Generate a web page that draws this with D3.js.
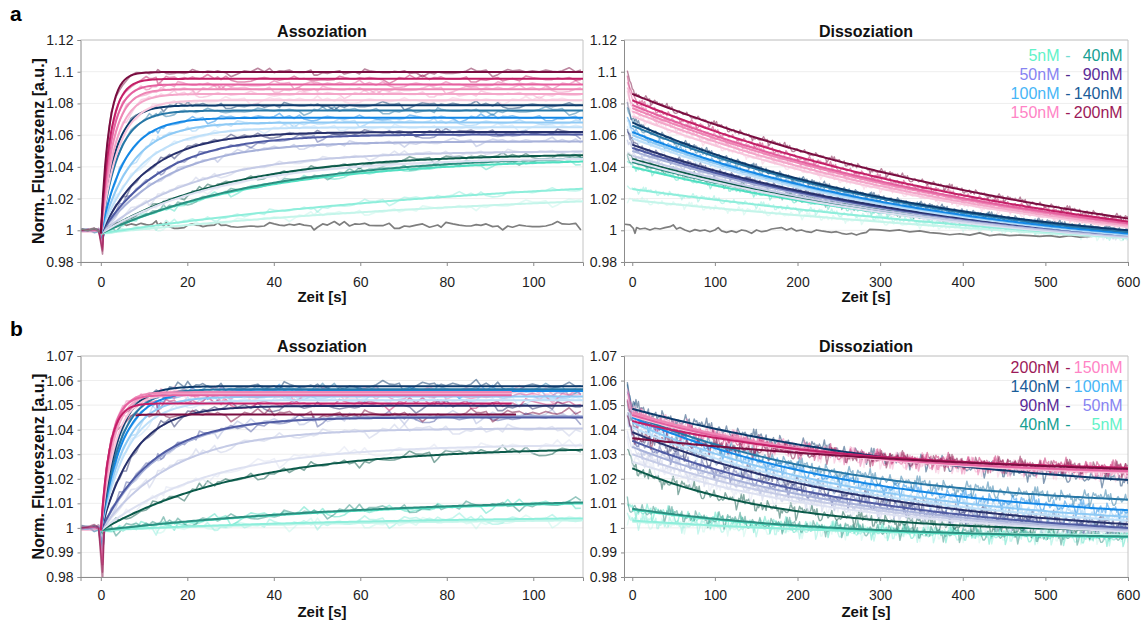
<!DOCTYPE html>
<html>
<head>
<meta charset="utf-8">
<script src="https://cdn.jsdelivr.net/npm/d3@7"></script>
<style>
  body { margin: 0; background: #fff; }
  svg text { font-family: "Liberation Sans", Arial, Helvetica, sans-serif; }
</style>
</head>
<body>
<svg id="chart" width="1146" height="622"></svg>
<script>
// ---- concentrations and colours (one entry per titration step) ----
const concentrations = [5, 10, 20, 30, 40, 50, 60, 70, 80, 90, 100, 110, 120, 130, 140, 150, 160, 170, 180, 190, 200];
const seriesColors = [
  "#c4f5ea", "#8eeedb", "#4fdfc1", "#2b8f80", "#0b5a4a",
  "#dde1f1", "#c5cbe6", "#a7b1d9", "#4f5ba3", "#27306b",
  "#bfe0f9", "#8fcaf5", "#1488e6", "#2777a6", "#0c3a6b",
  "#f8c6dc", "#f4a6c9", "#ee86b5", "#e5619f", "#c41f67", "#7a0d40"
];

// ---- panel a: association fits (plateau, observed rate in 1/s), injection dip ----
const aAssocPlateau = [1.030, 1.040, 1.046, 1.0485, 1.0485, 1.046, 1.050, 1.056, 1.0605, 1.062, 1.065, 1.068, 1.071, 1.0755, 1.0788, 1.082, 1.086, 1.089, 1.092, 1.0955, 1.0998];
const aAssocRate = [0.009, 0.010, 0.026, 0.025, 0.034, 0.035, 0.045, 0.065, 0.07, 0.09, 0.11, 0.14, 0.18, 0.25, 0.3, 0.25, 0.3, 0.35, 0.4, 0.45, 0.55];
const aAssocDip = [0.9985, 0.9985, 0.998, 0.997, 0.996, 0.997, 0.996, 0.995, 0.994, 0.994, 0.994, 0.993, 0.992, 0.992, 0.991, 0.990, 0.990, 0.989, 0.988, 0.987, 0.985];
// ---- panel a: dissociation fits (value at 0 s, value at 600 s, rate in 1/s) ----
const aDissStart = [1.019, 1.026, 1.040, 1.043, 1.045, 1.044, 1.047, 1.050, 1.052, 1.054, 1.058, 1.060, 1.062, 1.066, 1.068, 1.072, 1.075, 1.077, 1.079, 1.082, 1.086];
const aDissEnd = [0.995, 0.9955, 0.9965, 0.998, 0.9985, 0.9955, 0.996, 0.9965, 0.997, 0.9975, 0.997, 0.9975, 0.998, 0.999, 1.000, 1.002, 1.003, 1.004, 1.0045, 1.0055, 1.0075];
const aDissRate = [0.0009, 0.0012, 0.0022, 0.0025, 0.0026, 0.0024, 0.0024, 0.0024, 0.0025, 0.0026, 0.0025, 0.0025, 0.0026, 0.0026, 0.0027, 0.0021, 0.0021, 0.002, 0.002, 0.0019, 0.0017];

// ---- panel b: association fits ----
const bAssocPlateau = [1.004, 1.005, 1.0125, 1.013, 1.033, 1.034, 1.0405, 1.0455, 1.045, 1.0497, 1.052, 1.0535, 1.0557, 1.0565, 1.0577, 1.0545, 1.055, 1.0553, 1.054, 1.0507, 1.0462];
const bAssocRate = [0.015, 0.015, 0.015, 0.015, 0.03, 0.04, 0.06, 0.075, 0.08, 0.13, 0.16, 0.18, 0.2, 0.22, 0.25, 0.3, 0.35, 0.4, 0.45, 0.5, 0.6];
const bAssocDip = [0.999, 0.999, 0.998, 0.998, 0.997, 0.996, 0.995, 0.995, 0.993, 0.992, 0.990, 0.990, 0.989, 0.988, 0.988, 0.987, 0.986, 0.985, 0.985, 0.982, 0.978];
const bAssocFitFrom = [0, 0, 0, 0, 0, 0, 0, 0, 0, 0, 0, 0, 0, 0, 0, 0, 0, 0, 0, 0, 8];
const bAssocFitTo = [111.5, 111.5, 111.5, 111.5, 111.5, 111.5, 111.5, 111.5, 111.5, 111.5, 111.5, 111.5, 111.5, 111.5, 111.5, 95, 95, 95, 95, 95, 96];
// ---- panel b: dissociation fits ----
const bDissStart = [1.0025, 1.003, 1.0075, 1.0078, 1.0243, 1.027, 1.030, 1.033, 1.0355, 1.039, 1.041, 1.043, 1.045, 1.046, 1.0485, 1.0455, 1.0465, 1.047, 1.046, 1.0435, 1.0365];
const bDissEnd = [0.997, 0.9965, 0.9962, 0.9965, 0.999, 0.9985, 0.999, 0.9995, 1.000, 1.0015, 1.003, 1.0045, 1.0072, 1.0115, 1.0195, 1.0225, 1.0228, 1.023, 1.0232, 1.0245, 1.024];
const bDissRate = [0.003, 0.003, 0.004, 0.004, 0.0055, 0.0035, 0.0035, 0.0035, 0.0033, 0.0032, 0.0034, 0.0034, 0.0034, 0.0037, 0.0024, 0.004, 0.004, 0.004, 0.0042, 0.0039, 0.002];

// ---- control measurement (no protein), association phase ----
const assocTime = [-4.5, -3, -1.5, -0.5, 0.4, 1.2,
  2.4, 3.5, 4.3, 5.1, 5.9, 7.0, 8.2, 9.3, 10.5, 11.2, 12.0, 12.8, 13.2, 13.9, 14.5, 15.1, 15.9, 17.0, 17.8, 19.3,
  20.1, 21.2, 22.0, 22.8, 23.6, 24.7, 26.3, 27.0, 27.8, 28.9, 30.1, 31.6, 33.2, 34.7, 36.3, 37.8, 39.0,
  40.1, 41.3, 42.4, 43.6, 44.7, 45.9, 47.0, 48.6, 49.3, 50.1, 51.3, 52.4, 54.0, 55.2, 56.3, 57.5, 58.7, 59.8,
  61.0, 62.1, 63.7, 65.2, 66.7, 67.9, 69.0, 70.2, 71.4, 72.9, 74.4, 76.0, 77.1, 77.9, 78.7, 79.8,
  81.4, 82.9, 84.5, 85.6, 86.8, 87.9, 89.1, 90.6, 91.8, 92.9, 94.1, 95.2, 96.8, 98.3, 99.8,
  101.4, 102.9, 104.4, 105.6, 106.7, 108.3, 109.8, 111.0];
const ctrlAssoc = [1.0008, 0.9998, 1.0012, 0.9995, 0.9975, 1.0015,
  1.0033, 1.0048, 1.0040, 1.0044, 1.0031, 1.0040, 1.0033, 1.0044, 1.0036, 1.0033, 1.0040, 1.0059, 1.0033, 1.0044, 1.0027, 1.0048, 1.0023, 1.0012, 1.0012, 1.0017,
  1.0033, 1.0040, 1.0033, 1.0031, 1.0023, 1.0029, 1.0033, 1.0048, 1.0031, 1.0033, 1.0023, 1.0019, 1.0023, 1.0027, 1.0023, 1.0027, 1.0048,
  1.0040, 1.0033, 1.0029, 1.0038, 1.0033, 1.0040, 1.0033, 1.0027, 1.0002, 1.0019, 1.0040, 1.0033, 1.0055, 1.0033, 1.0055, 1.0027, 1.0040, 1.0038,
  1.0044, 1.0031, 1.0029, 1.0029, 1.0044, 1.0012, 1.0012, 1.0027, 1.0023, 1.0033, 1.0040, 1.0019, 1.0027, 1.0033, 1.0019, 1.0050,
  1.0040, 1.0033, 1.0027, 1.0027, 1.0036, 1.0031, 1.0040, 1.0023, 1.0027, 1.0002, 1.0027, 1.0019, 1.0033, 1.0027, 1.0023,
  1.0023, 1.0027, 1.0038, 1.0055, 1.0040, 1.0038, 1.0044, 1.0002];

// ---- control measurement, dissociation phase ----
const ctrlDissTime = [-8.8, -2.8, 1.2, 3.3, 5.3, 9.3, 15.4, 21.4, 27.5, 33.5, 39.6, 45.6, 49.6, 53.6, 57.7, 63.7, 69.7, 75.8,
  81.9, 87.9, 94.0, 100.0, 104.0, 108.1, 114.1, 120.2, 126.2, 132.3, 138.3, 144.4, 150.4, 156.4, 162.5, 168.5, 174.6,
  180.6, 186.7, 192.7, 198.8, 204.8, 210.9, 216.9, 222.9, 229.0, 235.0, 241.1, 247.1, 253.2, 259.2, 265.3, 271.3, 277.4,
  283.4, 287.4, 299.5, 311.6, 323.7, 335.8, 347.9, 360.0, 372.1, 384.2, 396.3, 408.4, 420.4, 432.5, 444.6, 456.7,
  468.8, 480.9, 493.0, 505.1, 517.2, 529.3, 541.4, 553.5, 565.6, 577.7, 589.8, 600];
const ctrlDiss = [1.0038, 1.0034, 1.0013, 0.9981, 1.0017, 1.0008, 1.0013, 1.0002, 1.0013, 1.0008, 1.0017, 1.0023, 1.0034, 1.0008, 1.0017, 1.0002, 0.9991, 1.0004,
  0.9996, 1.0002, 0.9991, 1.0002, 1.0017, 0.9996, 0.9987, 0.9996, 0.9987, 1.0002, 0.9996, 0.9981, 1.0002, 0.9991, 0.9996, 1.0008, 1.0013,
  1.0017, 1.0002, 1.0013, 0.9996, 1.0002, 0.9991, 0.9987, 1.0002, 0.9996, 0.9991, 0.9987, 0.9991, 0.9981, 0.9975, 0.9981, 0.9970, 0.9981,
  0.9987, 1.0006, 1.0002, 0.9996, 1.0002, 0.9990, 0.9996, 0.9985, 0.9981, 0.9972, 0.9978, 0.9969, 0.9984, 0.9966, 0.9974, 0.9966,
  0.9970, 0.9966, 0.9961, 0.9966, 0.9957, 0.9966, 0.9957, 0.9962, 0.9966, 0.9958, 0.9963, 0.9960];

// ---- axis ticks ----
const yTicksA = [0.98, 1, 1.02, 1.04, 1.06, 1.08, 1.1, 1.12];
const yTicksB = [0.98, 0.99, 1, 1.01, 1.02, 1.03, 1.04, 1.05, 1.06, 1.07];
const xTicksAssoc = [0, 20, 40, 60, 80, 100];
const xTicksDiss = [0, 100, 200, 300, 400, 500, 600];

// ---- legends ----
const legendLeftA = ["5nM", "50nM", "100nM", "150nM"];
const legendRightA = ["40nM", "90nM", "140nM", "200nM"];
const legendLeftColorA = ["#62f2c8", "#8784f2", "#47b6f7", "#ff84c6"];
const legendDashColorA = ["#74dcd2", "#4f2a8c", "#1a5c98", "#9c1958"];
const legendRightColorA = ["#16a092", "#5a2c98", "#1a5c98", "#9c1958"];
const legendLeftB = ["200nM", "140nM", "90nM", "40nM"];
const legendRightB = ["150nM", "100nM", "50nM", "5nM"];
const legendLeftColorB = ["#9c1958", "#1a5c98", "#5a2c98", "#16a092"];
const legendRightColorB = ["#ff84c6", "#47b6f7", "#8784f2", "#62f2c8"];

// ---- model functions used for the fitted curves ----
function assocFit(t, base, plateau, rate) {
  return base + (plateau - base) * (1 - Math.exp(-rate * t));
}
function dissFit(t, start, end, rate) {
  const q = Math.exp(-600 * rate);
  const amp = (start - end) / (1 - q);
  return end - amp * q + amp * Math.exp(-rate * t);
}

// measurement noise taken from the control trace (deviation from its mean)
const ctrlSteady = ctrlAssoc.filter((v, i) => assocTime[i] > 1);
const ctrlMean = d3.mean(ctrlSteady);
const residual = ctrlSteady.map(v => v - ctrlMean);
const leadCount = assocTime.filter(t => t <= 1.2).length;
const dissTime = d3.range(-6, 601, 1.5);

const svg = d3.select("#chart");
const defs = svg.append("defs");

function drawPanel(cfg) {
  const x = d3.scaleLinear().domain(cfg.xDom).range([cfg.left, cfg.right]);
  const y = d3.scaleLinear().domain(cfg.yDom).range([cfg.bottom, cfg.top]);
  const g = svg.append("g");

  g.append("g").selectAll("line").data(cfg.yTicks).join("line")
    .attr("x1", cfg.left).attr("x2", cfg.right)
    .attr("y1", d => y(d)).attr("y2", d => y(d))
    .attr("stroke", "#eeeeee").attr("stroke-width", 1);

  g.append("path")
    .attr("d", `M${cfg.left},${cfg.top}H${cfg.right}V${cfg.bottom}`)
    .attr("fill", "none").attr("stroke", "#c4c4c4").attr("stroke-width", 1);

  defs.append("clipPath").attr("id", "clip-" + cfg.id)
    .append("rect").attr("x", cfg.left).attr("y", cfg.top)
    .attr("width", cfg.right - cfg.left).attr("height", cfg.bottom - cfg.top);
  const plot = g.append("g").attr("clip-path", `url(#clip-${cfg.id})`);

  const yAxis = g.append("g").attr("transform", `translate(${cfg.left},0)`)
    .call(d3.axisLeft(y).tickValues(cfg.yTicks).tickSize(3).tickPadding(4).tickFormat(d => String(d)));
  const xAxis = g.append("g").attr("transform", `translate(0,${cfg.bottom})`)
    .call(d3.axisBottom(x).tickValues(cfg.xTicks).tickSize(4).tickPadding(cfg.xPad).tickFormat(d => String(d)));
  [yAxis, xAxis].forEach(ax => {
    ax.select(".domain").attr("stroke", "#8c8c8c");
    ax.selectAll(".tick line").attr("stroke", "#8c8c8c");
    ax.selectAll(".tick text").attr("fill", "#1e1e1e").style("font-size", "14px")
      .style("font-family", '"Liberation Sans", Arial, sans-serif');
  });

  g.append("text").attr("x", cfg.titleX).attr("y", cfg.titleY)
    .attr("text-anchor", "middle").attr("font-weight", "bold").attr("font-size", 16)
    .attr("fill", "#111").text(cfg.title);
  g.append("text").attr("x", cfg.titleX).attr("y", cfg.xLabelY)
    .attr("text-anchor", "middle").attr("font-weight", "bold").attr("font-size", 15)
    .attr("fill", "#111").text("Zeit [s]");
  if (cfg.yLabel) {
    g.append("text").attr("transform", `translate(44,${(cfg.top + cfg.bottom) / 2}) rotate(-90)`)
      .attr("text-anchor", "middle").attr("font-weight", "bold").attr("font-size", 16)
      .attr("fill", "#111").text("Norm. Fluoreszenz [a.u.]");
  }
  return { x, y, plot, g };
}

const line = (x, y) => d3.line().x(d => x(d[0])).y(d => y(d[1]));

function drawAssociation(p, opts) {
  const ln = line(p.x, p.y);
  const n = residual.length;
  // raw traces
  concentrations.forEach((c, i) => {
    const pts = assocTime.map((t, j) => {
      const r = residual[(j + i * 29) % n];
      if (t < 0) return [t, 1.0 + 0.5 * r];
      if (j === leadCount - 2) return [t, opts.dip[i]];
      return [t, assocFit(t, opts.base, opts.plateau[i], opts.rate[i]) + opts.noise * r];
    });
    p.plot.append("path").datum(pts).attr("d", ln)
      .attr("fill", "none").attr("stroke", seriesColors[i])
      .attr("stroke-opacity", 0.5).attr("stroke-width", 1.6).attr("stroke-linejoin", "round");
  });
  // control trace
  if (opts.control) {
    p.plot.append("path").datum(assocTime.map((t, j) => [t, ctrlAssoc[j]])).attr("d", ln)
      .attr("fill", "none").attr("stroke", "#7e7e7e").attr("stroke-width", 1.7).attr("stroke-linejoin", "round");
  }
  // fitted curves
  concentrations.forEach((c, i) => {
    const from = opts.from ? opts.from[i] : 0;
    const to = opts.to ? opts.to[i] : 111.5;
    const ts = d3.range(from, to, 0.5).concat([to]);
    p.plot.append("path").datum(ts.map(t => [t, assocFit(t, opts.base, opts.plateau[i], opts.rate[i])]))
      .attr("d", ln).attr("fill", "none").attr("stroke", seriesColors[i]).attr("stroke-width", 2);
  });
}

function drawDissociation(p, opts) {
  const ln = line(p.x, p.y);
  const n = residual.length;
  concentrations.forEach((c, i) => {
    const f0 = dissFit(0, opts.start[i], opts.end[i], opts.rate[i]);
    const carry = opts.carry[i] - f0;
    const pts = dissTime.map((t, j) => {
      const r = residual[(j + i * 37) % n];
      return [t, dissFit(t, opts.start[i], opts.end[i], opts.rate[i]) + carry * Math.exp(-(t + 6) / 5) + opts.noise * r];
    });
    p.plot.append("path").datum(pts).attr("d", ln)
      .attr("fill", "none").attr("stroke", seriesColors[i])
      .attr("stroke-opacity", 0.5).attr("stroke-width", 1.4).attr("stroke-linejoin", "round");
  });
  if (opts.control) {
    p.plot.append("path").datum(ctrlDissTime.map((t, j) => [t, ctrlDiss[j]])).attr("d", ln)
      .attr("fill", "none").attr("stroke", "#7e7e7e").attr("stroke-width", 1.7).attr("stroke-linejoin", "round");
  }
  const ts = d3.range(0, 601, 4);
  concentrations.forEach((c, i) => {
    p.plot.append("path").datum(ts.map(t => [t, dissFit(t, opts.start[i], opts.end[i], opts.rate[i])]))
      .attr("d", ln).attr("fill", "none").attr("stroke", seriesColors[i]).attr("stroke-width", 2);
  });
}

function drawLegend(g, left, right, leftColors, dashColors, rightColors, baseY) {
  left.forEach((lbl, k) => {
    const yy = baseY + k * 19;
    g.append("text").attr("x", 1059.5).attr("y", yy).attr("text-anchor", "end")
      .attr("font-size", 16).attr("fill", leftColors[k]).text(lbl);
    g.append("text").attr("x", 1068).attr("y", yy).attr("text-anchor", "middle")
      .attr("font-size", 16).attr("fill", dashColors[k]).text("-");
    g.append("text").attr("x", 1122.7).attr("y", yy).attr("text-anchor", "end")
      .attr("font-size", 16).attr("fill", rightColors[k]).text(right[k]);
  });
}

// ---------- panel a ----------
const aA = drawPanel({ id: "aA", left: 80.5, right: 583, top: 40, bottom: 262, xDom: [-4.7, 111.5], yDom: [0.98, 1.12],
  yTicks: yTicksA, xTicks: xTicksAssoc, xPad: 11, title: "Assoziation", titleX: 322, titleY: 36.5, xLabelY: 302, yLabel: true });
const aD = drawPanel({ id: "aD", left: 624, right: 1128, top: 40, bottom: 262, xDom: [-10, 600], yDom: [0.98, 1.12],
  yTicks: yTicksA, xTicks: xTicksDiss, xPad: 11, title: "Dissoziation", titleX: 866, titleY: 36.5, xLabelY: 302, yLabel: false });
drawAssociation(aA, { base: 0.998, plateau: aAssocPlateau, rate: aAssocRate, dip: aAssocDip, noise: 1.0, control: true });
const aCarry = aAssocPlateau.map((pl, i) => assocFit(111, 0.998, pl, aAssocRate[i]));
drawDissociation(aD, { start: aDissStart, end: aDissEnd, rate: aDissRate, carry: aCarry, noise: 0.9, control: true });
drawLegend(aD.g, legendLeftA, legendRightA, legendLeftColorA, legendDashColorA, legendRightColorA, 61);

// ---------- panel b ----------
const bA = drawPanel({ id: "bA", left: 80.5, right: 583, top: 356, bottom: 577, xDom: [-4.7, 111.5], yDom: [0.98, 1.07],
  yTicks: yTicksB, xTicks: xTicksAssoc, xPad: 9, title: "Assoziation", titleX: 322, titleY: 351.5, xLabelY: 616.5, yLabel: true });
const bD = drawPanel({ id: "bD", left: 624, right: 1128, top: 356, bottom: 577, xDom: [-10, 600], yDom: [0.98, 1.07],
  yTicks: yTicksB, xTicks: xTicksDiss, xPad: 9, title: "Dissoziation", titleX: 866, titleY: 351.5, xLabelY: 616.5, yLabel: false });
drawAssociation(bA, { base: 0.999, plateau: bAssocPlateau, rate: bAssocRate, dip: bAssocDip, noise: 1.0, control: false,
  from: bAssocFitFrom, to: bAssocFitTo });
const bCarry = bAssocPlateau.map((pl, i) => assocFit(111, 0.999, pl, bAssocRate[i]));
drawDissociation(bD, { start: bDissStart, end: bDissEnd, rate: bDissRate, carry: bCarry, noise: 1.3, control: false });
drawLegend(bD.g, legendLeftB, legendRightB, legendLeftColorB, legendLeftColorB, legendRightColorB, 373);

// panel letters
svg.append("text").attr("x", 10).attr("y", 21).attr("font-size", 21).attr("font-weight", "bold").attr("fill", "#000").text("a");
svg.append("text").attr("x", 10).attr("y", 336).attr("font-size", 21).attr("font-weight", "bold").attr("fill", "#000").text("b");
</script>
</body>
</html>
